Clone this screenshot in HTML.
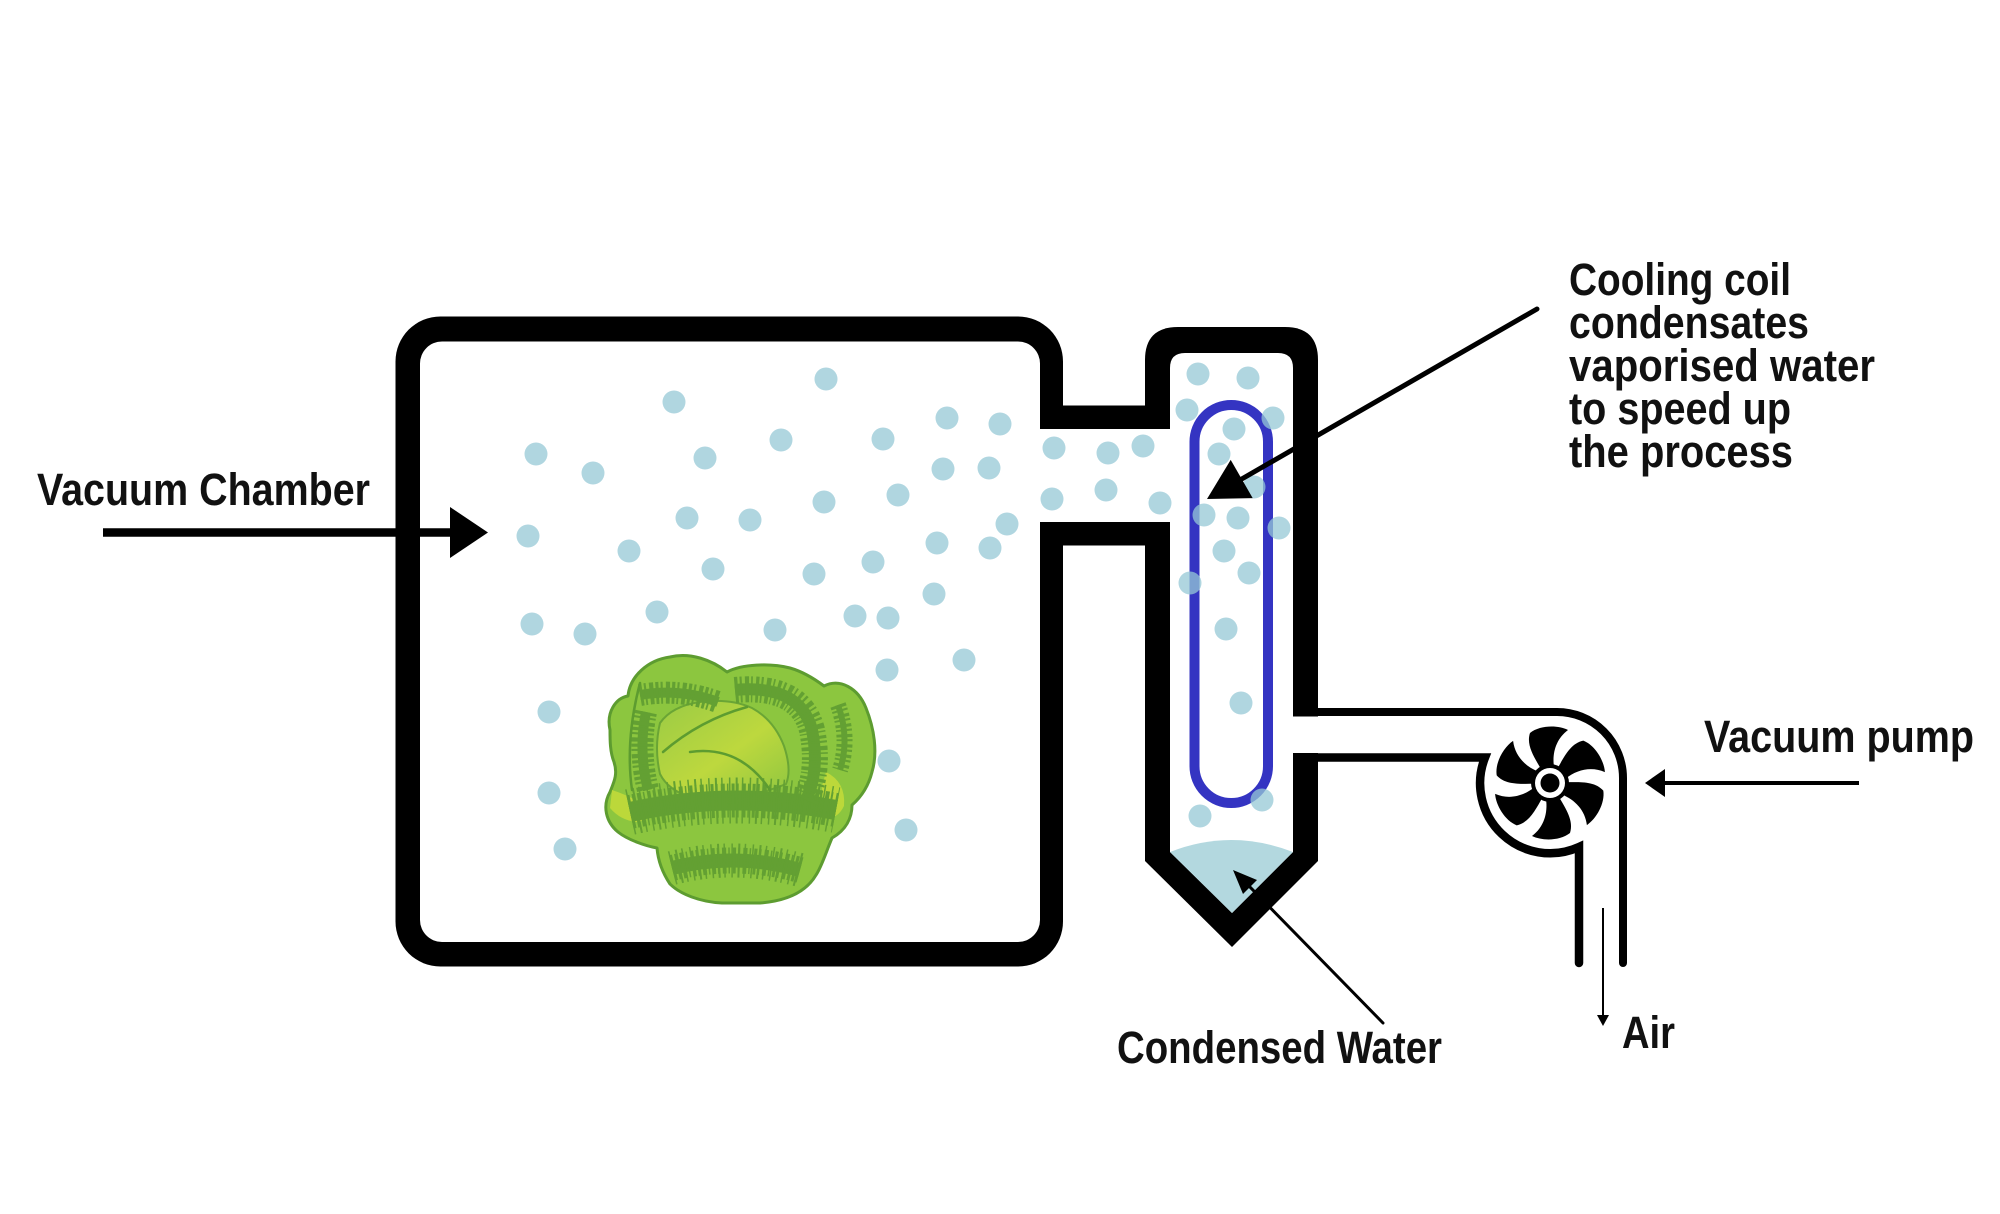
<!DOCTYPE html>
<html>
<head>
<meta charset="utf-8">
<style>
html,body{margin:0;padding:0;background:#fff;}
svg{display:block;}
.t{font-family:"Liberation Sans Narrow","Liberation Sans",sans-serif;font-weight:bold;font-size:45px;fill:#111;}
</style>
</head>
<body>
<svg width="2000" height="1214" viewBox="0 0 2000 1214" xmlns="http://www.w3.org/2000/svg">
<defs>
<linearGradient id="hg" x1="0" y1="0" x2="1" y2="1">
<stop offset="0" stop-color="#9acb45"/>
<stop offset="0.55" stop-color="#bdd83e"/>
<stop offset="1" stop-color="#8fc640"/>
</linearGradient>
<path id="blade" d="M -9,-14 C -16,-26 -24,-38 -20,-50 C -10,-58 8,-58 18,-53 C 6,-44 2,-30 4,-16 Z"/>
</defs>
<rect width="2000" height="1214" fill="#fff"/>

<!-- black structure -->
<rect x="395.5" y="316.5" width="667.5" height="650" rx="45" fill="#000"/>
<rect x="1050" y="405.5" width="105" height="140" fill="#000"/>
<path d="M1145,861 L1145,360 Q1145,327 1178,327 L1285,327 Q1318,327 1318,360 L1318,861 L1232,947 Z" fill="#000"/>

<!-- white interiors -->
<rect x="420" y="341.5" width="620" height="600.5" rx="22" fill="#fff"/>
<rect x="1030" y="429" width="150" height="93" fill="#fff"/>
<path d="M1170,852 L1170,368 Q1170,353 1185,353 L1278,353 Q1293,353 1293,368 L1293,852 L1232,913 Z" fill="#fff"/>
<rect x="1288" y="716.5" width="36" height="36.5" fill="#fff"/>

<!-- condensed water -->
<path d="M1170,852 Q1231,828 1293,852 L1232,913 Z" fill="#b3d8df"/>

<!-- cooling coil -->
<rect x="1194.5" y="405" width="73.5" height="398" rx="36.75" fill="none" stroke="#3434c2" stroke-width="10"/>

<!-- pump pipes -->
<path d="M1318,712 L1557,712 A66,66 0 0 1 1623,778 L1623,963" fill="none" stroke="#000" stroke-width="8" stroke-linecap="round"/>
<path d="M1318,757.5 L1485,757.5 A70,70 0 0 0 1579,847 L1579,963" fill="none" stroke="#000" stroke-width="8.5" stroke-linecap="round"/>

<!-- fan -->
<g transform="translate(1550,783)" fill="#000">
<use href="#blade"/>
<use href="#blade" transform="rotate(60)"/>
<use href="#blade" transform="rotate(120)"/>
<use href="#blade" transform="rotate(180)"/>
<use href="#blade" transform="rotate(240)"/>
<use href="#blade" transform="rotate(300)"/>
<circle r="19" fill="#000"/>
<circle r="15" fill="#fff"/>
<circle r="9.5" fill="#000"/>
</g>

<!-- cabbage -->
<g>
<path d="M610,730 C606,712 616,698 628,696 C630,676 648,660 670,657 C690,652 712,660 727,672 C742,664 770,663 790,668 C804,672 816,680 824,686 C840,678 858,688 866,708 C874,728 878,752 872,772 C868,788 860,798 852,805 C852,818 846,830 832,838 C826,852 822,866 816,875 C806,892 786,901 760,903 L722,903 C700,902 680,894 670,884 C662,872 658,860 657,848 C646,846 628,840 618,832 C606,822 602,806 610,792 C614,782 618,774 614,762 C610,752 610,740 610,730 Z" fill="#8cc63f" stroke="#5d9c30" stroke-width="3" stroke-linejoin="round"/>
<!-- yellow highlights -->
<path d="M612,790 Q630,796 642,804 Q650,815 640,822 Q622,822 610,808 Z" fill="#c8dc3a" opacity="0.8"/>
<path d="M826,772 Q846,782 844,806 Q838,818 828,818 Q822,800 822,786 Z" fill="#c8dc3a" opacity="0.8"/>
<!-- inner head -->
<path d="M660,723 Q672,706 700,702 Q730,698 752,708 Q774,720 784,746 Q792,770 786,784 Q760,795 728,797 L690,797 Q668,790 660,774 Q654,748 660,723 Z" fill="url(#hg)" stroke="#6aa535" stroke-width="2"/>
<!-- dark hatched fringe bands -->
<g fill="none" stroke="#63a033" stroke-linecap="butt">
<path d="M630,812 Q730,790 836,810" stroke-width="20"/>
<path d="M630,812 Q730,790 836,810" stroke-width="34" stroke-dasharray="3 2 2 3 4 2 1.5 3"/>
<path d="M630,812 Q730,790 836,810" stroke-width="46" stroke-dasharray="1.5 5 2 4 1.5 6"/>
<path d="M672,868 Q735,852 800,870" stroke-width="14"/>
<path d="M672,868 Q735,852 800,870" stroke-width="26" stroke-dasharray="3 2 2 3 4 2 1.5 3"/>
<path d="M672,868 Q735,852 800,870" stroke-width="34" stroke-dasharray="1.5 5 2 4 1.5 6"/>
<path d="M640,695 Q680,688 718,702" stroke-width="10"/>
<path d="M640,695 Q680,688 718,702" stroke-width="22" stroke-dasharray="3 2 2 3 4 2"/>
<path d="M646,712 Q638,750 648,790" stroke-width="10"/>
<path d="M646,712 Q638,750 648,790" stroke-width="22" stroke-dasharray="3 2 2 3 4 2"/>
<path d="M735,690 Q800,684 812,730 Q820,770 806,800" stroke-width="12"/>
<path d="M735,690 Q800,684 812,730 Q820,770 806,800" stroke-width="26" stroke-dasharray="3 2 2 3 4 2 1.5 3"/>
<path d="M838,705 Q850,738 840,770" stroke-width="6"/>
<path d="M838,705 Q850,738 840,770" stroke-width="16" stroke-dasharray="3 2 2 3"/>
</g>
<!-- leaf lines -->
<g fill="none" stroke="#5d9c30" stroke-width="2.5" stroke-linecap="round">
<path d="M663,752 Q700,720 747,707"/>
<path d="M690,752 Q740,745 770,790"/>
<path d="M640,683 Q625,740 632,790"/>
</g>
</g>

<!-- vapour dots -->
<g fill="#96c8d6" fill-opacity="0.75">
<circle cx="826" cy="379" r="11.5"/><circle cx="674" cy="402" r="11.5"/><circle cx="536" cy="454" r="11.5"/><circle cx="593" cy="473" r="11.5"/>
<circle cx="705" cy="458" r="11.5"/><circle cx="781" cy="440" r="11.5"/><circle cx="883" cy="439" r="11.5"/><circle cx="947" cy="418" r="11.5"/>
<circle cx="1000" cy="424" r="11.5"/><circle cx="943" cy="469" r="11.5"/><circle cx="989" cy="468" r="11.5"/><circle cx="898" cy="495" r="11.5"/>
<circle cx="824" cy="502" r="11.5"/><circle cx="687" cy="518" r="11.5"/><circle cx="750" cy="520" r="11.5"/><circle cx="528" cy="536" r="11.5"/>
<circle cx="629" cy="551" r="11.5"/><circle cx="713" cy="569" r="11.5"/><circle cx="814" cy="574" r="11.5"/><circle cx="873" cy="562" r="11.5"/>
<circle cx="937" cy="543" r="11.5"/><circle cx="990" cy="548" r="11.5"/><circle cx="1007" cy="524" r="11.5"/><circle cx="934" cy="594" r="11.5"/>
<circle cx="855" cy="616" r="11.5"/><circle cx="888" cy="618" r="11.5"/><circle cx="775" cy="630" r="11.5"/><circle cx="657" cy="612" r="11.5"/>
<circle cx="532" cy="624" r="11.5"/><circle cx="585" cy="634" r="11.5"/><circle cx="887" cy="670" r="11.5"/><circle cx="964" cy="660" r="11.5"/>
<circle cx="549" cy="712" r="11.5"/><circle cx="889" cy="761" r="11.5"/><circle cx="549" cy="793" r="11.5"/><circle cx="906" cy="830" r="11.5"/>
<circle cx="565" cy="849" r="11.5"/>
<circle cx="1054" cy="448" r="11.5"/><circle cx="1052" cy="499" r="11.5"/><circle cx="1108" cy="453" r="11.5"/><circle cx="1143" cy="446" r="11.5"/>
<circle cx="1106" cy="490" r="11.5"/><circle cx="1160" cy="503" r="11.5"/>
<circle cx="1198" cy="374" r="11.5"/><circle cx="1248" cy="378" r="11.5"/><circle cx="1187" cy="410" r="11.5"/><circle cx="1234" cy="429" r="11.5"/>
<circle cx="1273" cy="418" r="11.5"/><circle cx="1219" cy="454" r="11.5"/><circle cx="1254" cy="487" r="11.5"/><circle cx="1204" cy="515" r="11.5"/>
<circle cx="1238" cy="518" r="11.5"/><circle cx="1279" cy="528" r="11.5"/><circle cx="1224" cy="551" r="11.5"/><circle cx="1249" cy="573" r="11.5"/>
<circle cx="1190" cy="583" r="11.5"/><circle cx="1226" cy="629" r="11.5"/><circle cx="1241" cy="703" r="11.5"/><circle cx="1262" cy="800" r="11.5"/>
<circle cx="1200" cy="816" r="11.5"/>
</g>

<!-- arrows -->
<line x1="103" y1="532.5" x2="455" y2="532.5" stroke="#000" stroke-width="8.5"/>
<polygon points="450,507 488,532.5 450,558" fill="#000"/>

<line x1="1537" y1="309" x2="1240" y2="480" stroke="#000" stroke-width="5" stroke-linecap="round"/>
<polygon points="1207,499 1230.7,459.9 1252.7,498.1" fill="#000"/>

<line x1="1383" y1="1023" x2="1248" y2="885" stroke="#000" stroke-width="3" stroke-linecap="round"/>
<polygon points="1233,870 1257,880 1243,894" fill="#000"/>

<line x1="1660" y1="783" x2="1859" y2="783" stroke="#000" stroke-width="4"/>
<polygon points="1645,783 1665,769 1665,797" fill="#000"/>

<line x1="1603" y1="908" x2="1603" y2="1018" stroke="#000" stroke-width="2"/>
<polygon points="1597,1015 1609,1015 1603,1026" fill="#000"/>

<!-- labels -->
<text class="t" x="37" y="505" textLength="333" lengthAdjust="spacingAndGlyphs">Vacuum Chamber</text>
<text class="t" x="1569" y="295" textLength="222" lengthAdjust="spacingAndGlyphs">Cooling coil</text>
<text class="t" x="1569" y="338" textLength="240" lengthAdjust="spacingAndGlyphs">condensates</text>
<text class="t" x="1569" y="381" textLength="306" lengthAdjust="spacingAndGlyphs">vaporised water</text>
<text class="t" x="1569" y="424" textLength="222" lengthAdjust="spacingAndGlyphs">to speed up</text>
<text class="t" x="1569" y="467" textLength="224" lengthAdjust="spacingAndGlyphs">the process</text>
<text class="t" x="1704" y="752" textLength="270" lengthAdjust="spacingAndGlyphs">Vacuum pump</text>
<text class="t" x="1622" y="1048" textLength="53" lengthAdjust="spacingAndGlyphs">Air</text>
<text class="t" x="1117" y="1063" textLength="325" lengthAdjust="spacingAndGlyphs">Condensed Water</text>
</svg>
</body>
</html>
